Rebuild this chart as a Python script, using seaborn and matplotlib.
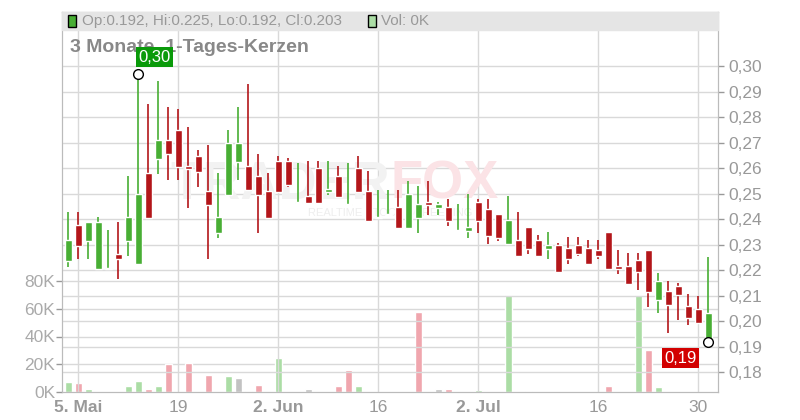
import matplotlib
matplotlib.use("Agg")
import matplotlib.pyplot as plt
import numpy as np
import seaborn as sns
from matplotlib.patches import Rectangle

sns.set_style("white")
plt.rcParams["font.family"] = ["Liberation Sans Narrow", "Liberation Sans", "DejaVu Sans"]

# daily candles (index 0 = 2. Mai)
opens = [0.2237, 0.2377, 0.2315, 0.2204, 0.2204, 0.2265, 0.2315, 0.2225, 0.2579, 0.2637,
         0.2710, 0.2749, 0.2608, 0.2647, 0.2510, 0.2346, 0.2496, 0.2625, 0.2608, 0.2569,
         0.2510, 0.2628, 0.2628, 0.2464, 0.2490, 0.2600, 0.2507, 0.2569, 0.2456, 0.2600,
         0.2510, 0.2405, 0.2416, 0.2447, 0.2366, 0.2405, 0.2468, 0.2445, 0.2447, 0.2356,
         0.2354, 0.2468, 0.2439, 0.2420, 0.2303, 0.2318, 0.2369, 0.2318, 0.2284, 0.2298,
         0.2286, 0.2298, 0.2286, 0.2279, 0.2349, 0.2216, 0.2216, 0.2239, 0.2279, 0.2084,
         0.2118, 0.2137, 0.2059, 0.2047, 0.1920]
highs = [0.2426, 0.2426, 0.2387, 0.2407, 0.2357, 0.2387, 0.2569, 0.2969, 0.2851, 0.2941,
         0.2838, 0.2831, 0.2760, 0.2671, 0.2689, 0.2579, 0.2749, 0.2838, 0.2929, 0.2656,
         0.2579, 0.2647, 0.2639, 0.2618, 0.2628, 0.2628, 0.2628, 0.2608, 0.2618, 0.2647,
         0.2588, 0.2516, 0.2516, 0.2516, 0.2549, 0.2529, 0.2549, 0.2468, 0.2479, 0.2459,
         0.2498, 0.2479, 0.2479, 0.2420, 0.2490, 0.2429, 0.2369, 0.2337, 0.2349, 0.2306,
         0.2330, 0.2330, 0.2318, 0.2318, 0.2349, 0.2279, 0.2267, 0.2267, 0.2279, 0.2187,
         0.2157, 0.2149, 0.2106, 0.2098, 0.2250]
lows = [0.2213, 0.2243, 0.2243, 0.2204, 0.2204, 0.2165, 0.2256, 0.2225, 0.2405, 0.2578,
        0.2554, 0.2554, 0.2445, 0.2527, 0.2243, 0.2327, 0.2496, 0.2554, 0.2515, 0.2346,
        0.2405, 0.2507, 0.2527, 0.2464, 0.2464, 0.2464, 0.2496, 0.2488, 0.2456, 0.2507,
        0.2394, 0.2405, 0.2416, 0.2366, 0.2366, 0.2346, 0.2416, 0.2416, 0.2374, 0.2356,
        0.2327, 0.2346, 0.2303, 0.2315, 0.2303, 0.2256, 0.2264, 0.2256, 0.2245, 0.2194,
        0.2225, 0.2256, 0.2225, 0.2245, 0.2205, 0.2186, 0.2147, 0.2123, 0.2056, 0.2033,
        0.1954, 0.2005, 0.1986, 0.1994, 0.1920]
closes = [0.2318, 0.2296, 0.2387, 0.2387, 0.2207, 0.2243, 0.2407, 0.2498, 0.2405, 0.2710,
          0.2656, 0.2605, 0.2597, 0.2586, 0.2456, 0.2408, 0.2697, 0.2697, 0.2515, 0.2496,
          0.2405, 0.2507, 0.2535, 0.2468, 0.2464, 0.2464, 0.2518, 0.2488, 0.2460, 0.2507,
          0.2394, 0.2407, 0.2418, 0.2366, 0.2498, 0.2459, 0.2456, 0.2459, 0.2394, 0.2357,
          0.2369, 0.2394, 0.2335, 0.2327, 0.2396, 0.2256, 0.2284, 0.2256, 0.2298, 0.2194,
          0.2245, 0.2264, 0.2225, 0.2256, 0.2205, 0.2205, 0.2147, 0.2194, 0.2115, 0.2157,
          0.2064, 0.2103, 0.2013, 0.1994, 0.2030]

# volume in K, colour code per bar
vol_idx = [0, 1, 2, 6, 7, 8, 9, 10, 12, 14, 16, 17, 18, 19, 21, 24, 27, 28, 29,
           35, 37, 38, 41, 44, 46, 54, 57, 58, 59]
vol_k = [7.4, 6.6, 2.4, 4.5, 8.1, 2.4, 4.5, 20.2, 20.9, 12.3, 11.6, 10.2, 1.0, 5.2, 24.5,
         2.4, 4.5, 15.9, 4.5, 57.9, 2.4, 2.4, 1.7, 70.0, 1.0, 4.5, 70.0, 30.1, 3.8]
vol_col = ["g", "r", "g", "g", "g", "r", "g", "r", "r", "r", "g", "n", "r", "r", "g",
           "n", "r", "r", "g", "r", "n", "r", "g", "g", "g", "r", "g", "r", "g"]

tick_pos = [1, 11, 21, 31, 41, 53, 63]
tick_lab = ["5. Mai", "19", "2. Jun", "16", "2. Jul", "16", "30"]
price_ticks = [0.18, 0.19, 0.20, 0.21, 0.22, 0.23, 0.24, 0.25, 0.26, 0.27, 0.28, 0.29, 0.30]
vol_ticks = [0, 20, 40, 60, 80]

GREEN, RED = "#48ae34", "#b3161a"
VCOL = {"g": "#abdda5", "r": "#f0a6ae", "n": "#c2c2c2"}
GRID = "#d9d9d9"
TXT = "#999999"

fig = plt.figure(figsize=(8, 4.2), dpi=100)
ax = fig.add_axes([62 / 800, 28 / 420, 656 / 800, 380 / 420])
axv = ax.twinx()
ax.set_zorder(2)
ax.patch.set_visible(False)

# volume (left scale)
axv.bar(vol_idx, vol_k, width=0.7, color=[VCOL[c] for c in vol_col], zorder=2)
axv.set_ylim(0, 80 * 380 / 111)
axv.yaxis.tick_left()
axv.set_yticks(vol_ticks)
axv.set_yticklabels([f"{v}K" for v in vol_ticks])
for v in vol_ticks[1:]:
    axv.axhline(v, color=GRID, lw=1, zorder=0)

# candles (right scale)
x = np.arange(len(opens))
o, h, l, c = map(np.array, (opens, highs, lows, closes))
cols = np.where(c >= o, GREEN, RED)
ax.vlines(x, l, h, colors=cols, lw=1.2, zorder=3)
bottom = np.minimum(o, c)
height = np.maximum(np.abs(c - o), 0.0003)
ax.bar(x, height, bottom=bottom, width=0.7, color=cols, zorder=4)

ax.set_xlim(-0.6, 65)
ax.set_ylim(0.1722, 0.3212)
ax.yaxis.tick_right()
ax.set_yticks(price_ticks)
ax.set_yticklabels([f"{p:.2f}".replace(".", ",") for p in price_ticks])
ax.set_xticks(tick_pos)
ax.set_xticklabels(tick_lab)
for lab, t in zip(ax.get_xticklabels(), tick_lab):
    if not t.isdigit():
        lab.set_fontweight("bold")
for p in price_ticks:
    ax.axhline(p, color=GRID, lw=1, zorder=0)
for t in tick_pos:
    ax.axvline(t, color=GRID, lw=1, zorder=0)

for a in (ax, axv):
    a.tick_params(colors=TXT, labelsize=12.5, length=4, width=1)
    for s in a.spines.values():
        s.set_color("#bbbbbb")
axv.tick_params(axis="y", labelcolor="#aaaaaa", pad=1)
ax.tick_params(axis="x", pad=2)

# header band
ax.add_patch(Rectangle((0, (392 - 30) / 380), 1, 18 / 380, transform=ax.transAxes,
                       color="#e5e5e5", zorder=5, clip_on=False))
for px, fc in ((68, GREEN), (368, "#abdda5")):
    ax.add_patch(Rectangle((px / 800, 1 - 27 / 420), 8 / 800, 12 / 420,
                           transform=fig.transFigure, fc=fc, ec="black", lw=1,
                           zorder=6, clip_on=False))
ax.text(82 / 800, 1 - 21 / 420, "Op:0.192, Hi:0.225, Lo:0.192, Cl:0.203",
        transform=fig.transFigure, color=TXT, fontsize=11, va="center", zorder=6)
ax.text(381 / 800, 1 - 21 / 420, "Vol: 0K", transform=fig.transFigure,
        color=TXT, fontsize=11, va="center", zorder=6)
ax.text(70 / 800, 1 - 47 / 420, "3 Monate, 1-Tages-Kerzen", transform=fig.transFigure,
        color="#888888", fontsize=14, fontweight="bold", va="center", zorder=5)
ax.text(0.5, 0.545, "TRADER", transform=ax.transAxes, fontsize=38, fontweight="bold",
        color="#f2f2f2", ha="right", va="center", zorder=1)
ax.text(0.5, 0.545, "FOX", transform=ax.transAxes, fontsize=38, fontweight="bold",
        color="#fbe3e6", ha="left", va="center", zorder=1)
ax.text(0.5, 0.47, "REALTIME STOCK SCREENING", transform=ax.transAxes, fontsize=8,
        color="#eeeeee", ha="center", va="center", zorder=1)

# max / last labels
imax = int(np.argmax(h))
ax.plot(imax, h[imax], "o", mfc="white", mec="black", ms=7, zorder=6)
ax.annotate(f"{h[imax]:.2f}".replace(".", ","), (imax, h[imax]), xytext=(12, 12),
            textcoords="offset points", ha="center", va="center", color="white",
            fontsize=12, bbox=dict(boxstyle="square,pad=0.15", fc="#0a9a0a", ec="none"),
            zorder=7)
last = len(o) - 1
ax.plot(last, l[last], "o", mfc="white", mec="black", ms=7, zorder=6, clip_on=False)
ax.annotate(f"{l[last]:.2f}".replace(".", ","), (last, l[last]), xytext=(-20, -12),
            textcoords="offset points", ha="center", va="center", color="white",
            fontsize=12, bbox=dict(boxstyle="square,pad=0.15", fc="#d20000", ec="none"),
            zorder=7)

fig.savefig("out.png", dpi=100)
